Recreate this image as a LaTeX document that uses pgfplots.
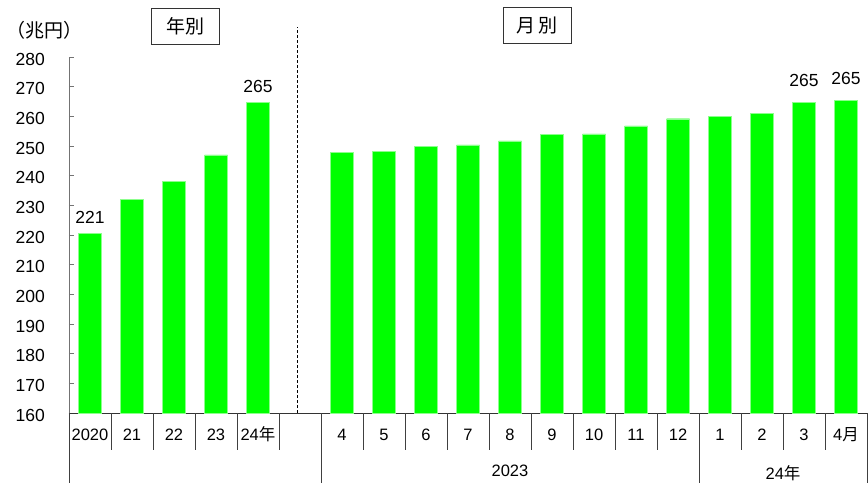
\documentclass[border=0pt]{standalone}
\usepackage{fontspec}
\setmainfont{Liberation Sans}
\newfontfamily\jp{Noto Sans CJK JP}
\usepackage{pgfplots}
\pgfplotsset{compat=1.18}
\begin{document}
\begin{tikzpicture}
\useasboundingbox (0,0) rectangle (868pt,483pt);
\begin{axis}[
 at={(69pt,70pt)}, anchor=south west,
 scale only axis, width=798pt, height=356pt,
 xmin=-0.5, xmax=18.5, ymin=160, ymax=280,
 axis x line*=bottom, axis y line*=left,
 x axis line style={black!80, line width=0.8pt},
 y axis line style={black!55, line width=0.8pt},
 ytick={160,170,...,280},
 ytick style={black!55, line width=0.8pt},
 major tick length=5pt,
 tick align=inside,
 xtick={0,1,2,3,4,6,7,...,18},
 xticklabels={2020,21,22,23,{24\jp 年},4,5,6,7,8,9,10,11,12,1,2,3,{4\jp 月}},
 xtick style={draw=none},
 xticklabel style={anchor=base, yshift=-27pt, inner sep=0pt, font=\fontsize{16.5}{18}\selectfont},
 yticklabel style={anchor=east, xshift=-24pt, yshift=-2pt, inner sep=0pt, font=\fontsize{17.5}{20}\selectfont},
 /pgf/number format/assume math mode=true,
 clip=false,
]
\addplot[ybar, bar width=23pt, bar shift=0pt, fill=green, draw=green!45!white, line width=0.4pt] coordinates {
 (0,220.6) (1,231.9) (2,238.2) (3,247.0) (4,264.6)
 (6,247.9) (7,248.3) (8,249.8) (9,250.4) (10,251.7) (11,253.9) (12,254.1) (13,256.8) (14,259.2)
 (15,259.9) (16,260.9) (17,264.7) (18,265.3)};
\addplot[ybar, bar width=23pt, bar shift=0pt, draw=none, fill=none, forget plot,
 nodes near coords, point meta=explicit symbolic,
 nodes near coords style={font=\fontsize{17.5}{20}\selectfont, anchor=south, inner sep=0pt, yshift=10pt}]
 coordinates {(0,220.6)[221] (4,264.6)[265]};
\addplot[ybar, bar width=23pt, bar shift=0pt, draw=none, fill=none, forget plot,
 nodes near coords, point meta=explicit symbolic,
 nodes near coords style={font=\fontsize{17.5}{20}\selectfont, anchor=south, inner sep=0pt, yshift=16pt}]
 coordinates {(17,264.7)[265] (18,265.3)[265]};
% separators below the axis
\draw[black!75, line width=0.8pt] (axis cs:-0.5,160) -- ++(0pt,-70pt);
\draw[black!75, line width=0.8pt] (axis cs:5.5,160) -- ++(0pt,-70pt);
\draw[black!75, line width=0.8pt] (axis cs:14.5,160) -- ++(0pt,-70pt);
\draw[black!75, line width=0.8pt] (axis cs:18.5,160) -- ++(0pt,-70pt);
\draw[black!75, line width=0.8pt] (axis cs:0.5,160) -- ++(0pt,-37pt);
\draw[black!75, line width=0.8pt] (axis cs:1.5,160) -- ++(0pt,-37pt);
\draw[black!75, line width=0.8pt] (axis cs:2.5,160) -- ++(0pt,-37pt);
\draw[black!75, line width=0.8pt] (axis cs:3.5,160) -- ++(0pt,-37pt);
\draw[black!75, line width=0.8pt] (axis cs:4.5,160) -- ++(0pt,-37pt);
\draw[black!75, line width=0.8pt] (axis cs:6.5,160) -- ++(0pt,-37pt);
\draw[black!75, line width=0.8pt] (axis cs:7.5,160) -- ++(0pt,-37pt);
\draw[black!75, line width=0.8pt] (axis cs:8.5,160) -- ++(0pt,-37pt);
\draw[black!75, line width=0.8pt] (axis cs:9.5,160) -- ++(0pt,-37pt);
\draw[black!75, line width=0.8pt] (axis cs:10.5,160) -- ++(0pt,-37pt);
\draw[black!75, line width=0.8pt] (axis cs:11.5,160) -- ++(0pt,-37pt);
\draw[black!75, line width=0.8pt] (axis cs:12.5,160) -- ++(0pt,-37pt);
\draw[black!75, line width=0.8pt] (axis cs:13.5,160) -- ++(0pt,-37pt);
\draw[black!75, line width=0.8pt] (axis cs:15.5,160) -- ++(0pt,-37pt);
\draw[black!75, line width=0.8pt] (axis cs:16.5,160) -- ++(0pt,-37pt);
\draw[black!75, line width=0.8pt] (axis cs:17.5,160) -- ++(0pt,-37pt);
% dashed divider
\draw[densely dashed, line width=0.6pt] (axis cs:4.93,160) -- (axis cs:4.93,290);
% group labels
\node[font=\fontsize{16.5}{18}\selectfont, yshift=-58pt] at (axis cs:10,160) {2023};
\node[font=\fontsize{16.5}{18}\selectfont, yshift=-60pt] at (axis cs:16.5,160) {24\jp 年};
\end{axis}
\node[draw=black!80, line width=0.8pt, minimum width=68pt, minimum height=36pt, inner sep=0pt,
 font=\jp\fontsize{19}{20}\selectfont] at (185pt,457pt) {年別};
\node[draw=black!80, line width=0.8pt, minimum width=68pt, minimum height=36pt, inner sep=0pt,
 font=\jp\fontsize{19}{20}\selectfont] at (537pt,458pt) {月\hspace{3pt}別};
\node[font=\jp\fontsize{19}{20}\selectfont] at (44pt,453pt) {（兆円）};
\end{tikzpicture}
\end{document}
